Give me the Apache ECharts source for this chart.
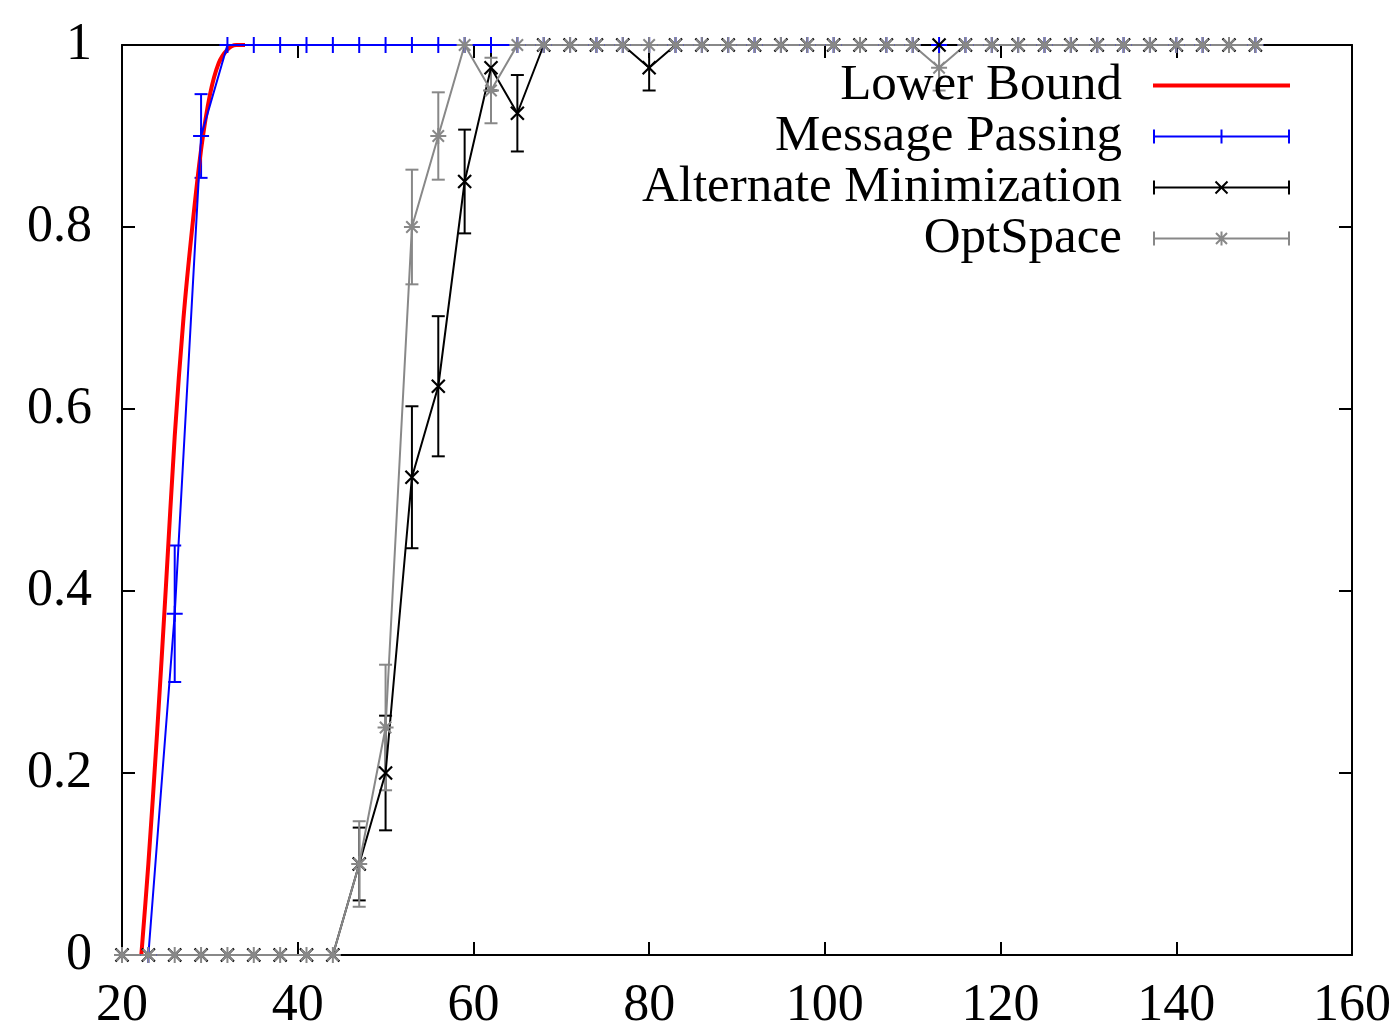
<!DOCTYPE html>
<html>
<head>
<meta charset="utf-8">
<script src="https://cdn.jsdelivr.net/npm/echarts@6/dist/echarts.min.js"></script>
<style>
html,body{margin:0;padding:0;background:#fff;}
#chart{width:1400px;height:1030px;}
</style>
</head>
<body>
<div id="chart"></div>
<script>
// ---------------- DATA ----------------
const xTicks = [20, 40, 60, 80, 100, 120, 140, 160];
const yTicks = [0, 0.2, 0.4, 0.6, 0.8, 1];

const lowerBoundX = [22.2, 23, 24, 25, 26, 27, 28, 29, 30, 31, 32, 33, 34];
const lowerBoundY = [0, 0.1, 0.245, 0.405, 0.57, 0.7, 0.8, 0.885, 0.945, 0.98, 0.995, 1, 1];

const sampleX = [20, 23, 26, 29, 32, 35, 38, 41, 44, 47, 50, 53, 56, 59, 62, 65, 68, 71, 74, 77, 80, 83,
                 86, 89, 92, 95, 98, 101, 104, 107, 110, 113, 116, 119, 122, 125, 128, 131, 134, 137, 140, 143, 146, 149];

const mpY   = [0, 0, 0.375, 0.9, 1, 1, 1, 1, 1, 1, 1, 1, 1, 1, 1, 1, 1, 1, 1, 1, 1, 1,
               1, 1, 1, 1, 1, 1, 1, 1, 1, 1, 1, 1, 1, 1, 1, 1, 1, 1, 1, 1, 1, 1];
const mpErr = [0, 0, 0.075, 0.046, 0, 0, 0, 0, 0, 0, 0, 0, 0, 0, 0, 0, 0, 0, 0, 0, 0, 0,
               0, 0, 0, 0, 0, 0, 0, 0, 0, 0, 0, 0, 0, 0, 0, 0, 0, 0, 0, 0, 0, 0];

const amY   = [0, 0, 0, 0, 0, 0, 0, 0, 0, 0.1, 0.2, 0.525, 0.625, 0.85, 0.975, 0.925, 1, 1, 1, 1, 0.975, 1,
               1, 1, 1, 1, 1, 1, 1, 1, 1, 1, 1, 1, 1, 1, 1, 1, 1, 1, 1, 1, 1, 1];
const amErr = [0, 0, 0, 0, 0, 0, 0, 0, 0, 0.04, 0.063, 0.078, 0.077, 0.057, 0.025, 0.042, 0, 0, 0, 0, 0.025, 0,
               0, 0, 0, 0, 0, 0, 0, 0, 0, 0, 0, 0, 0, 0, 0, 0, 0, 0, 0, 0, 0, 0];

const osY   = [0, 0, 0, 0, 0, 0, 0, 0, 0, 0.1, 0.25, 0.8, 0.9, 1, 0.95, 1, 1, 1, 1, 1, 1, 1,
               1, 1, 1, 1, 1, 1, 1, 1, 1, 0.975, 1, 1, 1, 1, 1, 1, 1, 1, 1, 1, 1, 1];
const osErr = [0, 0, 0, 0, 0, 0, 0, 0, 0, 0.047, 0.069, 0.063, 0.048, 0, 0.036, 0, 0, 0, 0, 0, 0, 0,
               0, 0, 0, 0, 0, 0, 0, 0, 0, 0.025, 0, 0, 0, 0, 0, 0, 0, 0, 0, 0, 0, 0];

const names = ['Lower Bound', 'Message Passing', 'Alternate Minimization', 'OptSpace'];

// ---------------- STYLE HELPERS ----------------
const SERIF = '"Liberation Serif", "Times New Roman", Times, serif';
const RED = '#ff0000', BLUE = '#0000ff', BLACK = '#000000', GRAY = '#888888';

function fmt(v) { return (+v.toFixed(2)).toString(); }
function poly(pts) {
  let a = 0;
  for (let i = 0; i < pts.length; i++) {
    const p = pts[i], q = pts[(i + 1) % pts.length];
    a += p[0] * q[1] - q[0] * p[1];
  }
  if (a < 0) pts = pts.slice().reverse();
  return 'M' + pts.map(p => fmt(p[0]) + ',' + fmt(p[1])).join('L') + 'Z';
}
function rect(x0, y0, x1, y1) { return poly([[x0, y0], [x1, y0], [x1, y1], [x0, y1]]); }
function seg(x0, y0, x1, y1, w) {
  const dx = x1 - x0, dy = y1 - y0, L = Math.hypot(dx, dy);
  const nx = -dy / L * w / 2, ny = dx / L * w / 2;
  return poly([[x0 + nx, y0 + ny], [x1 + nx, y1 + ny], [x1 - nx, y1 - ny], [x0 - nx, y0 - ny]]);
}
function anchors(w, h) { return 'M0,0L0.01,0L0.01,0.01Z' + 'M' + w + ',' + h + 'L' + (w - 0.01) + ',' + h + 'L' + (w - 0.01) + ',' + (h - 0.01) + 'Z'; }

// marker symbols
const plusSym  = 'path://' + rect(0, 7, 16, 9) + rect(7, 0, 9, 16);
const crossSym = 'path://' + anchors(15, 15) + seg(1, 1, 14, 14, 2.2) + seg(14, 1, 1, 14, 2.2);
const starSym  = 'path://' + anchors(16, 16) + rect(0, 7, 16, 9) + rect(7, 0, 9, 16) + seg(2.3, 2.3, 13.7, 13.7, 2) + seg(13.7, 2.3, 2.3, 13.7, 2);

// legend icons (137 x 14)
const LW = 137, LH = 14;
const barWithCaps = rect(0, 6, LW, 8) + rect(0, 0, 2, LH) + rect(LW - 2, 0, LW, LH);
const iconRed   = 'path://' + anchors(LW, LH) + rect(0, 5, LW, 9);
const iconBlue  = 'path://' + barWithCaps + rect(67.5, 0, 69.5, LH);
const iconBlack = 'path://' + barWithCaps + seg(62.5, 1, 74.5, 13, 2) + seg(74.5, 1, 62.5, 13, 2);
const iconGray  = 'path://' + barWithCaps + rect(67.5, 0, 69.5, LH) + seg(63, 1.5, 74, 12.5, 2) + seg(74, 1.5, 63, 12.5, 2);

function pairs(xs, ys) { return xs.map((x, i) => [x, ys[i]]); }
function errData(xs, ys, es) {
  const out = [];
  xs.forEach((x, i) => { if (es[i] > 0) out.push([x, ys[i] - es[i], ys[i] + es[i]]); });
  return out;
}
function errSeries(name, data, color) {
  return {
    name: name, type: 'custom', data: data, silent: true, z: 2,
    encode: { x: 0, y: [1, 2] },
    renderItem: function (params, api) {
      const x = api.value(0);
      const lo = api.coord([x, api.value(1)]);
      const hi = api.coord([x, api.value(2)]);
      const c = 6.5;
      const st = { stroke: color, lineWidth: 2, fill: null };
      return {
        type: 'group',
        children: [
          { type: 'line', shape: { x1: lo[0], y1: lo[1], x2: hi[0], y2: hi[1] }, style: st },
          { type: 'line', shape: { x1: lo[0] - c, y1: lo[1], x2: lo[0] + c, y2: lo[1] }, style: st },
          { type: 'line', shape: { x1: hi[0] - c, y1: hi[1], x2: hi[0] + c, y2: hi[1] }, style: st }
        ]
      };
    }
  };
}
function lineSeries(name, data, color, sym, size) {
  return {
    name: name, type: 'line', data: data, z: 2, clip: false, silent: true,
    symbol: sym, symbolSize: size, showSymbol: true, symbolKeepAspect: false,
    lineStyle: { color: color, width: 2 },
    itemStyle: { color: color, borderWidth: 0 },
    emphasis: { disabled: true }
  };
}

const axisCommon = {
  type: 'value',
  axisLine: { show: true, onZero: false, lineStyle: { color: '#000', width: 2 } },
  axisTick: { show: true, inside: true, length: 13, lineStyle: { color: '#000', width: 2 } },
  splitLine: { show: false },
  axisLabel: { fontFamily: SERIF, fontSize: 52, color: '#000' }
};

const chart = echarts.init(document.getElementById('chart'), null, { renderer: 'canvas' });
chart.setOption({
  animation: false,
  backgroundColor: '#fff',
  grid: { left: 122, right: 48, top: 45, bottom: 75, containLabel: false, outerBoundsMode: 'none' },
  xAxis: [
    Object.assign({}, axisCommon, { min: xTicks[0], max: xTicks[xTicks.length - 1], interval: 20, position: 'bottom',
      axisLabel: Object.assign({}, axisCommon.axisLabel, { margin: 25 }) }),
    Object.assign({}, axisCommon, { min: xTicks[0], max: xTicks[xTicks.length - 1], interval: 20, position: 'top',
      axisLabel: { show: false } })
  ],
  yAxis: [
    Object.assign({}, axisCommon, { min: yTicks[0], max: yTicks[yTicks.length - 1], interval: 0.2, position: 'left',
      axisLabel: Object.assign({}, axisCommon.axisLabel, { margin: 30 }) }),
    Object.assign({}, axisCommon, { min: yTicks[0], max: yTicks[yTicks.length - 1], interval: 0.2, position: 'right',
      axisLabel: { show: false } })
  ],
  legend: {
    orient: 'vertical', align: 'right', right: 110, top: 60, padding: 0,
    itemWidth: LW, itemHeight: LH, itemGap: 0, symbolKeepAspect: false,
    selectedMode: false,
    textStyle: { fontFamily: SERIF, fontSize: 51, color: '#000', lineHeight: 51, padding: [0, 26, 0, 0] },
    data: [
      { name: names[0], icon: iconRed, itemStyle: { color: RED, borderWidth: 0 } },
      { name: names[1], icon: iconBlue, itemStyle: { color: BLUE, borderWidth: 0 } },
      { name: names[2], icon: iconBlack, itemStyle: { color: BLACK, borderWidth: 0 } },
      { name: names[3], icon: iconGray, itemStyle: { color: GRAY, borderWidth: 0 } }
    ]
  },
  series: [
    {
      name: names[0], type: 'line', data: pairs(lowerBoundX, lowerBoundY), z: 2, silent: true,
      showSymbol: false, symbol: 'none', smooth: 0.3, clip: false,
      lineStyle: { color: RED, width: 4 }, itemStyle: { color: RED, borderWidth: 0 }
    },
    errSeries('mp-err', errData(sampleX, mpY, mpErr), BLUE),
    lineSeries(names[1], pairs(sampleX, mpY), BLUE, plusSym, 16),
    errSeries('am-err', errData(sampleX, amY, amErr), BLACK),
    lineSeries(names[2], pairs(sampleX, amY), BLACK, crossSym, 15),
    errSeries('os-err', errData(sampleX, osY, osErr), GRAY),
    lineSeries(names[3], pairs(sampleX, osY), GRAY, starSym, 16)
  ]
});
</script>
</body>
</html>
